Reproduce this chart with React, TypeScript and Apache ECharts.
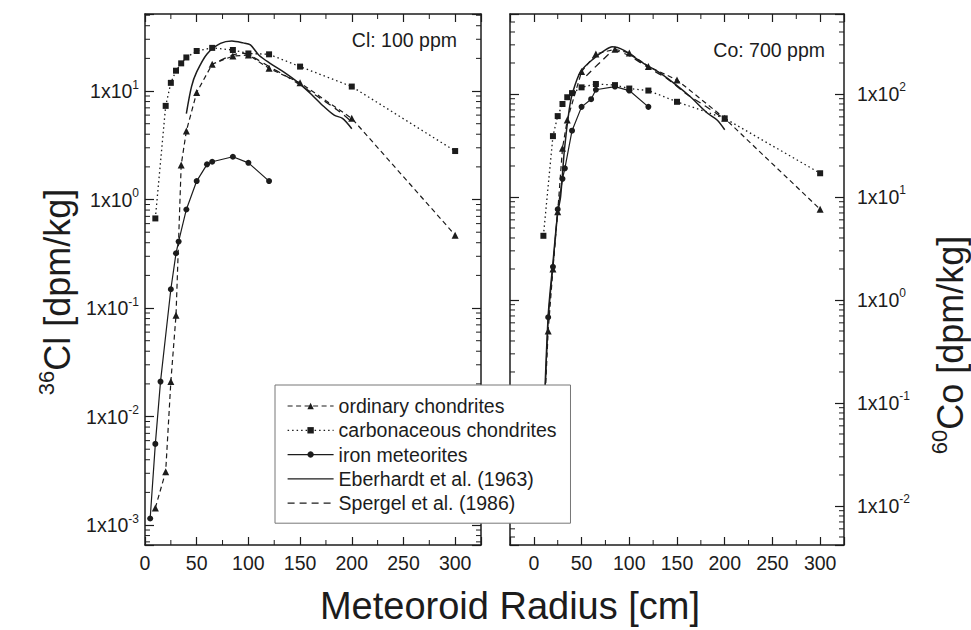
import React, { useEffect, useRef } from 'react';
import * as echarts from 'echarts';

const FONT = '"Liberation Sans", Arial, Helvetica, sans-serif';
const INK = '#1c1c1c';

// ---- axis ranges ----
const X_LEFT = [0, 325];
const X_RIGHT = [-25, 325];
const Y_CL = [6.55e-4, 51.3];
const Y_CO = [4.18e-3, 598];
const X_MINOR_TICKS = [25, 75, 125, 175, 225, 275];
const X_TICK_STEP = 50;

// ---- legend names ----
const NAMES = [
  'ordinary chondrites',
  'carbonaceous chondrites',
  'iron meteorites',
  'Eberhardt et al. (1963)',
  'Spergel et al. (1986)',
];

// ---- 36Cl panel (Cl: 100 ppm) ----
const clOrdR = [10, 20, 25, 30, 35, 40, 50, 65, 85, 100, 120, 150, 200, 300];
const clOrdV = [0.00144, 0.0031, 0.021, 0.086, 2.08, 4.28, 9.7, 17.7, 21, 21.5, 16.2, 11.9, 5.6, 0.47];
const clCarbR = [10, 20, 25, 30, 35, 40, 50, 65, 85, 100, 120, 150, 200, 300];
const clCarbV = [0.67, 7.3, 11.9, 15.4, 18, 20.4, 23.4, 25, 23.9, 22.2, 21.8, 16.8, 11, 2.8];
const clIronR = [5, 10, 15, 25, 30, 32.5, 40, 50, 60, 65, 85, 100, 120];
const clIronV = [0.00115, 0.0056, 0.021, 0.149, 0.32, 0.41, 0.81, 1.48, 2.11, 2.23, 2.48, 2.18, 1.48];
const clEbR = [40, 45, 50, 60, 73, 84, 95, 102, 110, 121, 134, 147, 160, 173, 183, 191, 200];
const clEbV = [6.2, 11, 15, 22, 27.5, 29, 27.8, 26.6, 21.5, 18, 15, 12.2, 9.5, 7.2, 6.0, 5.6, 4.5];
const clSpR = [72, 85, 95, 110, 120, 135, 150, 167, 186, 200];
const clSpV = [19, 21.5, 22.3, 19.2, 16.8, 14, 11.4, 8.9, 6.7, 5.2];

// ---- 60Co panel (Co: 700 ppm) ----
const coOrdR = [10, 15, 20, 25, 30, 35, 50, 65, 85, 100, 120, 150, 200, 300];
const coOrdV = [0.05, 0.5, 2.0, 7.2, 29.7, 56, 165, 245, 272, 250, 185, 137, 58, 7.6];
const coCarbR = [10, 20, 25, 30, 35, 40, 50, 65, 85, 100, 120, 150, 200, 300];
const coCarbV = [4.2, 39, 61, 80, 93, 102, 116, 125, 122, 113, 108, 84, 58, 17];
const coIronR = [10, 15, 20, 25, 30, 32.5, 40, 50, 60, 65, 85, 100, 120];
const coIronV = [0.05, 0.68, 2.1, 7.6, 15, 19, 44, 75, 89, 110, 118, 108, 75];
const coEbR = [10, 15, 20, 25, 28, 32, 37, 40.5, 49, 63, 75, 82, 94, 112, 130, 147, 164, 182, 192, 200];
const coEbV = [0.05, 0.7, 2.3, 7, 10, 28.6, 70, 102, 165, 222, 268, 288, 267, 206, 165, 127, 94, 65, 56, 45];
const coSpR = [55, 70, 85, 100, 120, 140, 160, 180, 200];
const coSpV = [150, 205, 262, 235, 180, 140, 100, 76, 57];

const PANEL_LABELS = ['Cl: 100 ppm', 'Co: 700 ppm'];

const pairs = (xs: number[], ys: number[]) => xs.map((x, i) => [x, ys[i]]);

const logMinor = (min: number, max: number) => {
  const out: number[] = [];
  for (let d = -5; d <= 3; d++) {
    for (let k = 2; k <= 9; k++) {
      const v = k * Math.pow(10, d);
      if (v > min && v < max) out.push(v);
    }
  }
  return out;
};

const logLabel = (v: number) => {
  const l = Math.log10(v);
  const e = Math.round(l);
  if (Math.abs(l - e) > 1e-6) return '';
  return '1x10{s|' + e + '}';
};

const labelRich = {
  s: { fontSize: 12, fontFamily: FONT, color: INK, padding: [0, 0, 13, 0] },
};

const titleRich = {
  s: { fontSize: 22, fontFamily: FONT, fill: INK, padding: [0, 0, 22, 0] },
};

const STYLES: any[] = [
  { symbol: 'triangle', symbolSize: 7, lineType: [5, 3.5], width: 1.2, smooth: false },
  { symbol: 'rect', symbolSize: 6, lineType: [1.5, 3], width: 1.3, smooth: false },
  { symbol: 'circle', symbolSize: 6, lineType: 'solid', width: 1.2, smooth: false },
  { symbol: 'none', symbolSize: 0, lineType: 'solid', width: 1.5, smooth: 0.3 },
  { symbol: 'none', symbolSize: 0, lineType: [7, 5], width: 1.3, smooth: 0.3 },
];

function lineSeries(idx: number, data: number[][], axis: number) {
  const st = STYLES[idx];
  return {
    type: 'line',
    name: NAMES[idx],
    xAxisIndex: axis,
    yAxisIndex: axis,
    data,
    symbol: st.symbol,
    symbolSize: st.symbolSize,
    showSymbol: st.symbol !== 'none',
    smooth: st.smooth,
    lineStyle: { color: INK, width: st.width, type: st.lineType },
    itemStyle: { color: INK },
    emphasis: { disabled: true },
    z: 3,
  };
}

function yMinorSeries(axis: number, xr: number[], yr: number[]) {
  return {
    type: 'custom',
    xAxisIndex: axis,
    yAxisIndex: axis,
    silent: true,
    clip: false,
    z: 1,
    data: logMinor(yr[0], yr[1]).map((v) => [xr[0], v]),
    renderItem: (params: any, api: any) => {
      const v = api.value(1);
      const a = api.coord([xr[0], v]);
      const b = api.coord([xr[1], v]);
      const s = { stroke: INK, lineWidth: 1 };
      return {
        type: 'group',
        children: [
          { type: 'line', shape: { x1: a[0], y1: a[1], x2: a[0] + 5, y2: a[1] }, style: s },
          { type: 'line', shape: { x1: b[0] - 5, y1: b[1], x2: b[0], y2: b[1] }, style: s },
        ],
      };
    },
  };
}

function xMinorSeries(axis: number, yr: number[]) {
  return {
    type: 'custom',
    xAxisIndex: axis,
    yAxisIndex: axis,
    silent: true,
    clip: false,
    z: 1,
    data: X_MINOR_TICKS.map((r) => [r, yr[0]]),
    renderItem: (params: any, api: any) => {
      const r = api.value(0);
      const a = api.coord([r, yr[0]]);
      const b = api.coord([r, yr[1]]);
      const s = { stroke: INK, lineWidth: 1 };
      return {
        type: 'group',
        children: [
          { type: 'line', shape: { x1: a[0], y1: a[1], x2: a[0], y2: a[1] - 5 }, style: s },
          { type: 'line', shape: { x1: b[0], y1: b[1], x2: b[0], y2: b[1] + 5 }, style: s },
        ],
      };
    },
  };
}

function xAxis(grid: number, range: number[], position: string, labels: boolean) {
  return {
    type: 'value',
    gridIndex: grid,
    min: range[0],
    max: range[1],
    splitNumber: 7,
    position,
    axisLine: { show: true, onZero: false, lineStyle: { color: INK, width: 1.5 } },
    axisTick: { show: true, inside: true, length: 8, lineStyle: { color: INK, width: 1.2 } },
    axisLabel: {
      show: labels,
      fontFamily: FONT,
      fontSize: 19.5,
      color: INK,
      margin: 8,
      formatter: (v: number) => (v % X_TICK_STEP === 0 ? String(v) : ''),
    },
    splitLine: { show: false },
  };
}

function yAxis(grid: number, range: number[], position: string, labels: boolean, margin: number) {
  return {
    type: 'log',
    logBase: 10,
    gridIndex: grid,
    min: range[0],
    max: range[1],
    position,
    axisLine: { show: true, onZero: false, lineStyle: { color: INK, width: 1.5 } },
    axisTick: { show: true, inside: true, length: 9, lineStyle: { color: INK, width: 1.2 } },
    axisLabel: {
      show: labels,
      fontFamily: FONT,
      fontSize: 19.5,
      lineHeight: 20,
      color: INK,
      margin,
      formatter: logLabel,
      rich: labelRich,
    },
    splitLine: { show: false },
  };
}

export default function App() {
  const ref = useRef<HTMLDivElement>(null);

  useEffect(() => {
    if (!ref.current) return;
    const chart = echarts.init(ref.current, null, { renderer: 'svg' });

    const legendData = NAMES.map((n, i) =>
      i >= 3 ? { name: n, itemStyle: { opacity: 0 } } : { name: n }
    );

    const titleStyle = (text: string) => ({
      text,
      fontFamily: FONT,
      fontSize: 36,
      lineHeight: 36,
      fill: INK,
      align: 'center',
      verticalAlign: 'middle',
      rich: titleRich,
    });

    const option: any = {
      animation: false,
      backgroundColor: '#ffffff',
      textStyle: { fontFamily: FONT },
      grid: [
        { left: 145, top: 14, width: 336, height: 531 },
        { left: 510, top: 14, width: 334, height: 531 },
      ],
      xAxis: [
        xAxis(0, X_LEFT, 'bottom', true),
        xAxis(0, X_LEFT, 'top', false),
        xAxis(1, X_RIGHT, 'bottom', true),
        xAxis(1, X_RIGHT, 'top', false),
      ],
      yAxis: [
        yAxis(0, Y_CL, 'left', true, 6),
        yAxis(0, Y_CL, 'right', false, 6),
        yAxis(1, Y_CO, 'left', false, 6),
        yAxis(1, Y_CO, 'right', true, 13),
      ],
      legend: {
        show: true,
        orient: 'vertical',
        left: 275,
        top: 385,
        padding: [11, 14, 10, 12],
        itemGap: 4.3,
        itemWidth: 46,
        itemHeight: 8,
        backgroundColor: '#ffffff',
        borderColor: '#777777',
        borderWidth: 1,
        borderRadius: 0,
        selectedMode: false,
        z: 10,
        textStyle: { fontFamily: FONT, fontSize: 19.5, color: INK, lineHeight: 20 },
        lineStyle: { width: 1.2 },
        data: legendData,
      },
      graphic: [
        { type: 'text', x: 57, y: 292, rotation: Math.PI / 2, style: titleStyle('{s|36}Cl [dpm/kg]') },
        { type: 'text', x: 950, y: 345, rotation: Math.PI / 2, style: titleStyle('{s|60}Co [dpm/kg]') },
        {
          type: 'text',
          x: 510,
          y: 606,
          style: {
            text: 'Meteoroid Radius [cm]',
            fontFamily: FONT,
            fontSize: 38,
            fill: INK,
            align: 'center',
            verticalAlign: 'middle',
          },
        },
        {
          type: 'text',
          x: 457,
          y: 40,
          style: {
            text: PANEL_LABELS[0],
            fontFamily: FONT,
            fontSize: 19.5,
            fill: INK,
            align: 'right',
            verticalAlign: 'middle',
          },
        },
        {
          type: 'text',
          x: 825,
          y: 50,
          style: {
            text: PANEL_LABELS[1],
            fontFamily: FONT,
            fontSize: 19.5,
            fill: INK,
            align: 'right',
            verticalAlign: 'middle',
          },
        },
      ],
      series: [
        lineSeries(0, pairs(clOrdR, clOrdV), 0),
        lineSeries(1, pairs(clCarbR, clCarbV), 0),
        lineSeries(2, pairs(clIronR, clIronV), 0),
        lineSeries(3, pairs(clEbR, clEbV), 0),
        lineSeries(4, pairs(clSpR, clSpV), 0),
        lineSeries(0, pairs(coOrdR, coOrdV), 2),
        lineSeries(1, pairs(coCarbR, coCarbV), 2),
        lineSeries(2, pairs(coIronR, coIronV), 2),
        lineSeries(3, pairs(coEbR, coEbV), 2),
        lineSeries(4, pairs(coSpR, coSpV), 2),
        yMinorSeries(0, X_LEFT, Y_CL),
        yMinorSeries(2, X_RIGHT, Y_CO),
        xMinorSeries(0, Y_CL),
        xMinorSeries(2, Y_CO),
      ],
    };

    chart.setOption(option);
    return () => chart.dispose();
  }, []);

  return (
    <div
      ref={ref}
      style={{ position: 'fixed', left: 0, top: 0, width: 971, height: 630, background: '#fff' }}
    />
  );
}
